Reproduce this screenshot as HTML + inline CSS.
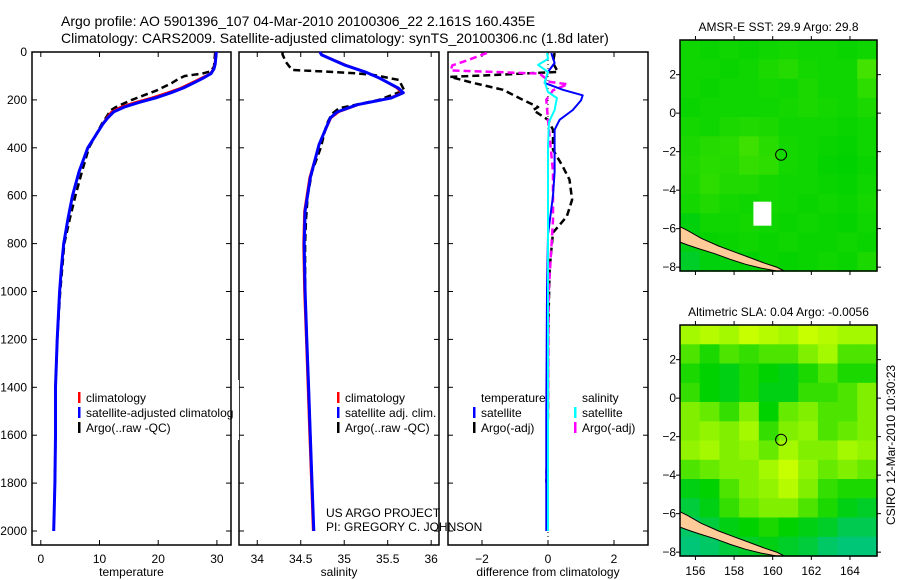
<!DOCTYPE html>
<html><head><meta charset="utf-8">
<style>
body{margin:0;background:#fff;}
svg{display:block;font-family:"Liberation Sans",sans-serif;}
</style></head>
<body>
<svg id="chart" width="900" height="580" viewBox="0 0 900 580"></svg>
<script>
// ===== Data =====
const tempDepth = [0,50,70,90,110,130,150,170,190,210,230,250,275,300,350,400,500,600,700,800,900,1000,1200,1400,1600,1800,2000];
const tempClim = [29.8,29.6,29.4,28.8,27.2,25.5,23.8,21.5,19.0,16.0,13.5,12.0,11.2,10.5,9.3,8.0,6.5,5.4,4.6,3.9,3.5,3.2,2.8,2.5,2.5,2.4,2.2];
const tempSat = [29.9,29.7,29.5,29.0,27.6,26.0,24.3,22.2,19.8,16.8,14.2,12.4,11.4,10.6,9.3,8.0,6.5,5.4,4.6,3.9,3.5,3.2,2.8,2.5,2.5,2.4,2.2];
const argoTDepth = [0,60,80,90,100,115,130,160,200,230,245,255,270,300,400,500,600,700,800,1000,1200,1400,1600,1800];
const argoT = [29.7,29.5,29.0,27.5,24.5,23.3,22.3,19.8,15.5,12.8,11.8,11.6,11.2,10.4,8.2,7.0,5.9,4.9,4.0,3.3,2.8,2.5,2.5,2.4];

const salDepth = [0,12,54,83,108,150,170,192,220,250,275,387,525,665,805,1000,1200,1400,1600,1800,2000];
const salClim = [34.72,34.75,35.02,35.25,35.40,35.60,35.66,35.52,35.17,34.94,34.85,34.71,34.60,34.54,34.53,34.54,34.56,34.58,34.60,34.62,34.64];
const salSat = [34.72,34.74,35.0,35.24,35.40,35.62,35.68,35.54,35.15,34.92,34.84,34.71,34.61,34.55,34.54,34.55,34.57,34.59,34.61,34.63,34.65];
const argoSDepth = [0,10,42,75,82,88,95,117,160,200,235,258,300,400,500,600,700,800,1000,1200,1400,1600,1800];
const argoS = [34.29,34.29,34.33,34.40,34.80,35.10,35.33,35.63,35.69,35.40,34.94,34.86,34.80,34.73,34.63,34.58,34.56,34.55,34.55,34.57,34.59,34.61,34.63];

const dTArgoDepth = [4,46,83,95,104,129,158,200,230,242,283,325,408,479,533,617,687,754,900,1200,1500,1800];
const dTArgo = [0.2,0.15,0.3,-1.5,-2.97,-2.27,-1.36,-0.76,-0.3,-0.45,0,0.15,0.15,0.45,0.65,0.73,0.57,0.15,0.05,0,0,-0.05];
const dTSatDepth = [4,46,83,129,158,181,202,242,283,325,500,600,762,1000,1500,2000];
const dTSat = [0.1,0.2,0,-0.1,0.45,1.05,1.0,0.75,0.35,0.2,0.2,0.15,0,-0.03,-0.05,-0.05];
const dSSatDepth = [4,29,54,83,125,167,192,242,292,400,800,1200,1600,2000];
const dSSat = [-0.03,0.0,-0.3,0,-0.1,0,0.27,0.2,0.03,0,0,0,0,0];
const dSArgoDepth = [4,35,56,77,90,125,135,160,200,283,500,700,1000,1500,1800];
const dSArgo = [-1.85,-2.45,-2.9,-2.95,-0.25,0.05,0.6,0.15,-0.05,0,0.15,0.15,0.02,0,-0.05];

const depthTicks = [0,200,400,600,800,1000,1200,1400,1600,1800,2000];
const tempTicks = [0,10,20,30];
const salTicks = [34,34.5,35,35.5,36];
const diffTicks = [-2,0,2];
const latTicks = [2,0,-2,-4,-6,-8];
const lonTicks = [156,158,160,162,164];

// map grids (1 deg rows from 3.8N downward, 10 columns west->east), normalized colour index 0..1
const sstGrid = [
[0.38,0.37,0.38,0.37,0.38,0.39,0.38,0.38,0.37,0.38],
[0.38,0.38,0.37,0.38,0.40,0.42,0.39,0.38,0.38,0.48],
[0.38,0.37,0.38,0.38,0.39,0.38,0.40,0.38,0.38,0.44],
[0.37,0.38,0.38,0.38,0.38,0.39,0.40,0.39,0.38,0.40],
[0.39,0.38,0.40,0.41,0.40,0.38,0.38,0.38,0.37,0.38],
[0.40,0.42,0.43,0.47,0.43,0.39,0.38,0.37,0.36,0.38],
[0.41,0.43,0.42,0.45,0.44,0.39,0.38,0.36,0.35,0.37],
[0.40,0.44,0.41,0.41,0.39,0.38,0.38,0.37,0.36,0.38],
[0.39,0.41,0.39,0.38,0.39,0.38,0.37,0.38,0.37,0.39],
[0.32,0.38,0.38,0.39,0.38,0.37,0.38,0.37,0.36,0.38],
[0.30,0.36,0.37,0.38,0.37,0.38,0.37,0.37,0.38,0.37],
[0.25,0.32,0.32,0.34,0.37,0.36,0.37,0.38,0.37,0.40]
];
const slaGrid = [
[0.70,0.75,0.70,0.80,0.75,0.70,0.80,0.75,0.70,0.70],
[0.50,0.40,0.50,0.45,0.50,0.50,0.60,0.70,0.50,0.50],
[0.40,0.35,0.30,0.40,0.35,0.30,0.40,0.50,0.40,0.40],
[0.45,0.35,0.30,0.40,0.30,0.30,0.45,0.45,0.50,0.60],
[0.60,0.55,0.45,0.60,0.35,0.55,0.60,0.50,0.50,0.60],
[0.60,0.65,0.60,0.70,0.45,0.60,0.65,0.50,0.55,0.60],
[0.65,0.70,0.60,0.65,0.55,0.70,0.60,0.60,0.70,0.65],
[0.50,0.55,0.60,0.60,0.70,0.80,0.65,0.55,0.60,0.55],
[0.30,0.35,0.50,0.60,0.65,0.75,0.60,0.45,0.40,0.40],
[0.20,0.30,0.45,0.55,0.60,0.60,0.50,0.40,0.30,0.25],
[0.10,0.20,0.30,0.35,0.40,0.35,0.30,0.25,0.15,0.15],
[0.05,0.10,0.20,0.25,0.30,0.25,0.20,0.10,0.05,0.05]
];
const landLon = [155.2,155.6,156.3,157.2,158.0,158.8,159.6,160.2,160.6,160.2,159.4,158.6,157.8,157.0,156.2,155.6,155.2];
const landLat = [-5.9,-6.1,-6.5,-6.9,-7.2,-7.5,-7.8,-8.0,-8.2,-8.2,-8.05,-7.85,-7.6,-7.3,-7.05,-6.85,-6.7];
const argoLon = 160.435, argoLat = -2.161;

// ===== helpers =====
const NS="http://www.w3.org/2000/svg";
const svg=document.getElementById('chart');
function el(tag,attrs,parent){const e=document.createElementNS(NS,tag);for(const k in attrs)e.setAttribute(k,attrs[k]);(parent||svg).appendChild(e);return e;}
function txt(x,y,s,attrs,parent){const t=el('text',Object.assign({x:x,y:y,'font-size':12,fill:'#000'},attrs||{}),parent);t.textContent=s;return t;}

const yTop=52, yBot=545;
const yD=d=>yTop+d*0.2395;
const panels=[
 {x0:32,x1:231,v0:-1.5,v1:32.4,name:'temperature-panel'},
 {x0:239,x1:439,v0:33.79,v1:36.09,name:'salinity-panel'},
 {x0:448,x1:648,v0:-3.03,v1:3.03,name:'difference-panel'}
];
panels.forEach(p=>{p.sx=v=>p.x0+(v-p.v0)/(p.v1-p.v0)*(p.x1-p.x0);});

function line(p,vals,depths,color,w,dash,name){
  const pts=vals.map((v,i)=>p.sx(v).toFixed(1)+','+yD(depths[i]).toFixed(1)).join(' ');
  const a={points:pts,fill:'none',stroke:color,'stroke-width':w,'stroke-linejoin':'round'};
  if(dash)a['stroke-dasharray']=dash;
  const l=el('polyline',a,p.g);
  
  
}

// Titles
const tg=el('g',{});


txt(61,26,'Argo profile: AO 5901396_107 04-Mar-2010 20100306_22 2.161S 160.435E',{'font-size':14},tg);
txt(61,43,'Climatology: CARS2009. Satellite-adjusted climatology: synTS_20100306.nc (1.8d later)',{'font-size':14},tg);

// Panels
const xlabels=['temperature','salinity','difference from climatology'];
const xticksets=[tempTicks,salTicks,diffTicks];
panels.forEach((p,i)=>{
  p.g=el('g',{});
  
  
  el('rect',{x:p.x0,y:yTop,width:p.x1-p.x0,height:yBot-yTop,fill:'#fff',stroke:'#000','stroke-width':1.5},p.g);
  xticksets[i].forEach(v=>{
    const x=p.sx(v);
    el('line',{x1:x,y1:yBot,x2:x,y2:yBot-5,stroke:'#000'},p.g);
    el('line',{x1:x,y1:yTop,x2:x,y2:yTop+5,stroke:'#000'},p.g);
    const t=txt(x,563,String(v).replace('-','−'),{'text-anchor':'middle'},p.g);
    
    
  });
  depthTicks.forEach(d=>{
    const y=yD(d);
    el('line',{x1:p.x0,y1:y,x2:p.x0+5,y2:y,stroke:'#000'},p.g);
    el('line',{x1:p.x1,y1:y,x2:p.x1-5,y2:y,stroke:'#000'},p.g);
    if(i===0){const t=txt(27,y+4,String(d),{'text-anchor':'end'},p.g);
      
      }
  });
  const xl=txt((p.x0+p.x1)/2,576,xlabels[i],{'text-anchor':'middle'},p.g);
  
  
});

// temperature panel
line(panels[0],argoT,argoTDepth,'#000',2.5,'7,4','temp-argo-line');
line(panels[0],tempClim,tempDepth,'#ff0000',2,null,'temp-climatology-line');
line(panels[0],tempSat,tempDepth,'#0000ff',3,null,'temp-satellite-line');
// salinity
line(panels[1],argoS,argoSDepth,'#000',2.5,'7,4','sal-argo-line');
line(panels[1],salClim,salDepth,'#ff0000',2,null,'sal-climatology-line');
line(panels[1],salSat,salDepth,'#0000ff',3,null,'sal-satellite-line');
// difference
const zl=el('line',{x1:panels[2].sx(0),y1:yTop,x2:panels[2].sx(0),y2:yBot,stroke:'#000','stroke-dasharray':'1,3'},panels[2].g);


line(panels[2],dTArgo,dTArgoDepth,'#000',2.5,'7,4','diff-temp-argo-line');
line(panels[2],dSArgo,dSArgoDepth,'#ff00ff',2.5,'7,4','diff-sal-argo-line');
line(panels[2],dTSat,dTSatDepth,'#0000ff',2,null,'diff-temp-satellite-line');
line(panels[2],dSSat,dSSatDepth,'#00ffff',2,null,'diff-sal-satellite-line');

// legends
function legend(x,y,items,name){
  const g=el('g',{});
  
  
  items.forEach((it,k)=>{
    const yy=y+k*15;
    if(it[0])el('rect',{x:x,y:yy-10,width:2.5,height:11,fill:it[0]},g);
    txt(x+8,yy,it[1],{},g);
  });
}
legend(78,402,[['#ff0000','climatology'],['#0000ff','satellite-adjusted climatology'],['#000','Argo(..raw -QC)']],'temperature-legend');
el('rect',{x:233,y:380,width:6,height:60,fill:'#fff'});
legend(337,402,[['#ff0000','climatology'],['#0000ff','satellite adj. clim.'],['#000','Argo(..raw -QC)']],'salinity-legend');
legend(473,402,[[null,'temperature'],['#0000ff','satellite'],['#000','Argo(-adj)']],'diff-temperature-legend');
legend(574,402,[[null,'salinity'],['#00ffff','satellite'],['#ff00ff','Argo(-adj)']],'diff-salinity-legend');
const cr=el('g',{});


txt(326,517,'US ARGO PROJECT',{},cr);
txt(326,531,'PI: GREGORY C. JOHNSON',{},cr);

// ===== maps =====
function cmap(v){
  const stops=[[0,[0,196,140]],[0.35,[0,210,0]],[0.6,[128,240,0]],[0.8,[200,255,0]],[1,[220,255,0]]];
  for(let i=1;i<stops.length;i++){if(v<=stops[i][0]){const a=stops[i-1],b=stops[i];const t=(v-a[0])/(b[0]-a[0]);
    const c=a[1].map((q,j)=>Math.round(q+(b[1][j]-q)*t));return `rgb(${c[0]},${c[1]},${c[2]})`;}}
  return 'rgb(220,255,0)';
}
function drawMap(top,grid,title,name,showLon){
  const m={x0:680,x1:877,y0:top,y1:top+231,lon0:155.2,lon1:165.4,lat0:3.8,lat1:-8.2};
  const sx=lon=>m.x0+(lon-m.lon0)/(m.lon1-m.lon0)*(m.x1-m.x0);
  const sy=lat=>m.y0+(m.lat0-lat)/(m.lat0-m.lat1)*(m.y1-m.y0);
  const g=el('g',{});
  
  
  const rows=grid.length, cols=grid[0].length;
  const cw=(m.x1-m.x0)/cols, ch=(m.y1-m.y0)/rows;
  grid.forEach((row,r)=>row.forEach((v,c)=>{
    const cell=el('rect',{x:(m.x0+c*cw).toFixed(1),y:(m.y0+r*ch).toFixed(1),width:(cw+0.6).toFixed(1),height:(ch+0.6).toFixed(1),fill:cmap(v)},g);
    
    
  }));
  const land=el('polygon',{points:landLon.map((lo,i)=>sx(lo).toFixed(1)+','+sy(landLat[i]).toFixed(1)).join(' '),fill:'#ffcc99',stroke:'#000','stroke-width':1},g);
  
  
  const ci=el('circle',{cx:sx(argoLon),cy:sy(argoLat),r:5.5,fill:'none',stroke:'#000','stroke-width':1},g);
  
  
  el('rect',{x:m.x0,y:m.y0,width:m.x1-m.x0,height:m.y1-m.y0,fill:'none',stroke:'#000','stroke-width':1.5},g);
  latTicks.forEach(la=>{const y=sy(la);
    el('line',{x1:m.x0-4,y1:y,x2:m.x0,y2:y,stroke:'#000'},g);
    el('line',{x1:m.x1,y1:y,x2:m.x1+4,y2:y,stroke:'#000'},g);
    txt(676,y+4,String(la).replace('-','−'),{'text-anchor':'end'},g);});
  lonTicks.forEach(lo=>{const x=sx(lo);
    el('line',{x1:x,y1:m.y0-4,x2:x,y2:m.y0,stroke:'#000'},g);
    el('line',{x1:x,y1:m.y1,x2:x,y2:m.y1+4,stroke:'#000'},g);
    if(showLon)txt(x,575,String(lo),{'text-anchor':'middle'},g);});
  const t=txt((m.x0+m.x1)/2,top-9,title,{'text-anchor':'middle'},g);
  
  
  return {sx,sy,g};
}
const m1=drawMap(40,sstGrid,'AMSR-E SST: 29.9 Argo: 29.8','sst-map',false);
const wr=el('rect',{x:m1.sx(159.0),y:m1.sy(-4.6),width:18,height:24,fill:'#fff'},m1.g);


drawMap(325,slaGrid,'Altimetric SLA: 0.04 Argo: -0.0056','sla-map',true);

const side=txt(0,0,'CSIRO 12-Mar-2010 10:30:23',{'text-anchor':'middle',transform:'translate(895,445) rotate(-90)'});


</script>
</body></html>
